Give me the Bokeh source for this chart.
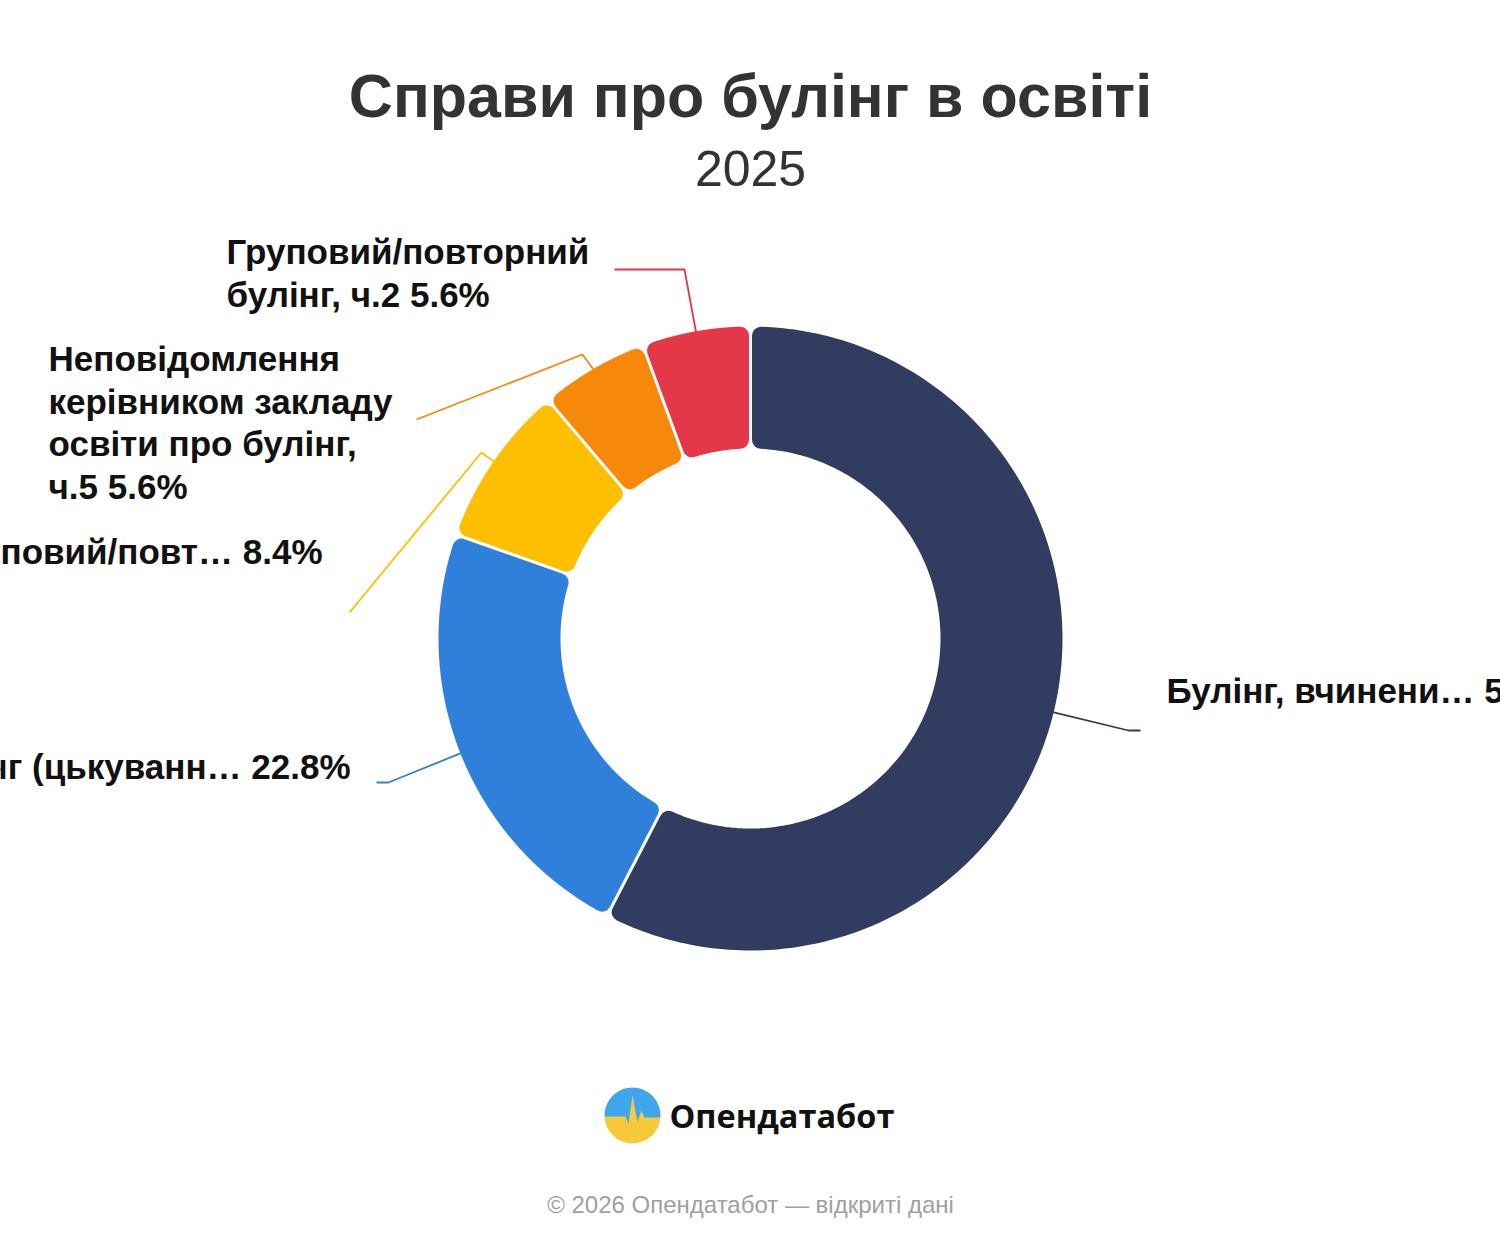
import numpy as np
from bokeh.plotting import figure
from bokeh.models import Range1d
from bokeh.core.properties import value
from bokeh.embed import file_html
from bokeh.resources import INLINE

# ---------------- data ----------------
title = "Справи про булінг в освіті"
subtitle = "2025"
categories = [
    "Булінг, вчинени…",
    "Булінг (цькуванн…",
    "Груповий/повт…",
    "Неповідомлення\nкерівником закладу\nосвіти про булінг,\nч.5",
    "Груповий/повторний\nбулінг, ч.2",
]
shares = [57.6, 22.8, 8.4, 5.6, 5.6]
colors = ["#313D60", "#2F80DA", "#FEBF00", "#F6880A", "#E43747"]
brand = "Опендатабот"
footer = "© 2026 Опендатабот — відкриті дані"

# ---------------- layout ----------------
W, H = 1500, 1250
CX, CY = 750, 638
R_OUT, R_IN = 312, 190
CORNER, GAP = 9, 3.0
LINE_STEP = 42.5
# label layout: (elbow x, elbow y, end x, end y, text x, first line y, align)
label_layout = [
    (1128, 730, 1140, 730, 1166, 690, "left"),
    (388, 782, 376, 782, 350, 766, "right"),
    (481, 452, 349, 612, 322, 551, "right"),
    (582, 354, 416, 419, 48, 358, "left"),
    (684, 269, 614, 269, 226, 251, "left"),
]

p = figure(width=W, height=H, output_backend="svg", toolbar_location=None,
           x_range=Range1d(0, W), y_range=Range1d(H, 0),
           x_axis_location=None, y_axis_location=None, min_border=0)
p.grid.visible = False
p.outline_line_color = None
p.background_fill_color = "#FFFFFF"
p.border_fill_color = "#FFFFFF"

total = sum(shares)
frac = np.array(shares) / total
ends = np.cumsum(frac) * 2 * np.pi
starts = ends - frac * 2 * np.pi

d = CORNER + GAP / 2
ro, ri = R_OUT - CORNER, R_IN + CORNER
xs_list, ys_list = [], []
for t0, t1 in zip(starts, ends):
    to = np.linspace(t0 + np.arcsin(d / ro), t1 - np.arcsin(d / ro), 200)
    ti = np.linspace(t1 - np.arcsin(d / ri), t0 + np.arcsin(d / ri), 120)
    xs_list.append(list(np.concatenate([CX + ro * np.sin(to), CX + ri * np.sin(ti)])))
    ys_list.append(list(np.concatenate([CY - ro * np.cos(to), CY - ri * np.cos(ti)])))

p.patches(xs_list, ys_list, fill_color=colors, line_color=colors,
          line_width=2 * CORNER, line_join="round")

# leader lines
mids = (starts + ends) / 2
lx, ly = [], []
for m, lay in zip(mids, label_layout):
    sx, sy = CX + (R_OUT - 2) * np.sin(m), CY - (R_OUT - 2) * np.cos(m)
    lx.append([sx, lay[0], lay[2]])
    ly.append([sy, lay[1], lay[3]])
p.multi_line(lx, ly, line_color=colors, line_width=1.8)

# labels
for cat, s, lay in zip(categories, shares, label_layout):
    lines = f"{cat} {s}%".split("\n")
    ys = [lay[5] + i * LINE_STEP for i in range(len(lines))]
    p.text(x=[lay[4]] * len(lines), y=ys, text=lines,
           text_font=value("Liberation Sans"), text_font_style="bold",
           text_font_size="35px", text_align=lay[6], text_baseline="middle",
           text_color="#111111")

# title
p.text(x=[W / 2], y=[95], text=[title], text_font=value("Liberation Sans"),
       text_font_style="bold", text_font_size="61px", text_align="center",
       text_baseline="middle", text_color="#333333")
p.text(x=[W / 2], y=[168], text=[subtitle], text_font=value("Liberation Sans"),
       text_font_size="50px", text_align="center", text_baseline="middle",
       text_color="#333333")

# logo
LX, LY, LR = 632, 1115, 28
p.scatter(x=[LX], y=[LY], size=2 * LR, marker="circle", fill_color="#F5C93A", line_color=None)
ta = np.linspace(np.pi, 0, 60)
top_x = list(LX + LR * np.cos(ta) * 0.995)
top_y = list(LY - LR * np.sin(ta) * 0.995)
pulse = [(LR, 2), (12, 2), (9, -5), (5, 6), (0, -20), (-4, 8), (-7, 1), (-LR, 1)]
px = top_x + [LX + a for a, b in pulse]
py = top_y + [LY + b for a, b in pulse]
p.patch(px, py, fill_color="#3EA6EC", line_color=None)
p.text(x=[669], y=[1115], text=[brand], text_font=value("Open Sans"),
       text_font_style="bold", text_font_size="32.5px", text_align="left",
       text_baseline="middle", text_color="#111111")
p.text(x=[W / 2], y=[1204], text=[footer], text_font=value("Liberation Sans"),
       text_font_size="24px", text_align="center", text_baseline="middle",
       text_color="#A0A0A0")

open("out.html", "w").write(file_html(p, INLINE))
